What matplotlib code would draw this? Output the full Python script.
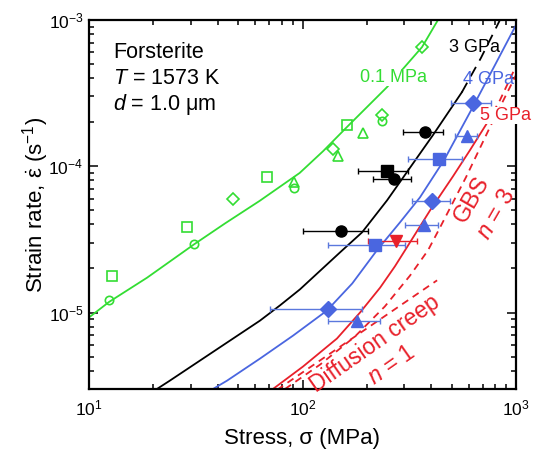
import matplotlib
matplotlib.use("Agg")
import matplotlib.pyplot as plt
import numpy as np

plt.rcParams["font.family"] = ["Liberation Sans", "DejaVu Sans"]
plt.rcParams["mathtext.fontset"] = "custom"
plt.rcParams["mathtext.rm"] = "Liberation Sans"
plt.rcParams["mathtext.it"] = "Liberation Sans:italic"
plt.rcParams["mathtext.default"] = "regular"
plt.rcParams["axes.unicode_minus"] = False

GREEN = "#33dd33"
BLUE = "#4a66e0"
BLUE_ERR = "#5b78dd"
RED = "#e8202a"

# model curves (stress MPa, strain rate 1/s)
green_sig = [10, 12.4, 18.7, 31, 43.4, 63, 97, 125, 163, 249, 363, 431]
green_eps = [9.25e-6, 1.18e-5, 1.73e-5, 2.92e-5, 4.07e-5, 5.8e-5, 9.0e-5, 1.27e-4, 1.88e-4, 3.48e-4, 6.53e-4, 1.0e-3]

black_sig = [20.8, 23.9, 63.2, 78.5, 97.3, 150, 190, 249, 330, 408, 558]
black_eps = [3.0e-6, 3.42e-6, 8.8e-6, 1.12e-5, 1.44e-5, 2.58e-5, 3.53e-5, 5.85e-5, 1.05e-4, 1.63e-4, 3.21e-4]
black_dash_sig = [558, 685, 841]
black_dash_eps = [3.21e-4, 5.5e-4, 1.0e-3]

blue_sig = [38.1, 44.3, 63.2, 90.3, 130, 171, 223, 286, 355, 460, 609, 797, 1000]
blue_eps = [3.0e-6, 3.42e-6, 4.84e-6, 6.95e-6, 1.03e-5, 1.58e-5, 2.66e-5, 4.13e-5, 6.13e-5, 1.10e-4, 2.34e-4, 4.92e-4, 9.24e-4]

red_sig = [72.7, 100.5, 145, 186, 231, 271, 302, 396, 507, 609, 731]
red_eps = [3.0e-6, 4.27e-6, 6.64e-6, 1.0e-5, 1.48e-5, 2.07e-5, 2.66e-5, 5.0e-5, 8.54e-5, 1.29e-4, 1.97e-4]
red_dash_sig = [731, 841, 1000]
red_dash_eps = [1.97e-4, 2.83e-4, 4.84e-4]

gbs_sig = [82.8, 121, 176, 243, 319, 387, 441, 507, 583, 664, 755, 869, 1000]
gbs_eps = [3.0e-6, 4.41e-6, 6.85e-6, 1.10e-5, 1.79e-5, 2.66e-5, 3.82e-5, 5.67e-5, 8.41e-5, 1.25e-4, 1.85e-4, 2.79e-4, 4.20e-4]

diff_sig = [76, 427]
diff_eps = [2.96e-6, 1.66e-5]

# 0.1 MPa data (open symbols)
g_circ_sig = [12.4, 31.0, 91.2, 236]
g_circ_eps = [1.21e-5, 2.92e-5, 7.08e-5, 2.03e-4]
g_sq_sig = [12.8, 28.8, 68.2, 161]
g_sq_eps = [1.79e-5, 3.82e-5, 8.4e-5, 1.91e-4]
g_dia_sig = [47.2, 139, 236, 363]
g_dia_eps = [5.94e-5, 1.31e-4, 2.23e-4, 6.53e-4]
g_tri_sig = [91.2, 146, 192]
g_tri_eps = [7.76e-5, 1.17e-4, 1.68e-4]

# 3 GPa
k_circ_sig = [151, 268, 375]
k_circ_eps = [3.59e-5, 8.15e-5, 1.71e-4]
k_circ_lo = [100, 214, 296]
k_circ_hi = [203, 322, 455]
k_sq_sig = [249]
k_sq_eps = [9.24e-5]
k_sq_lo = [182]
k_sq_hi = [312]

# 4 GPa
b_dia_sig = [132, 404, 629]
b_dia_eps = [1.05e-5, 5.75e-5, 2.70e-4]
b_dia_lo = [70.5, 326, 497]
b_dia_hi = [190, 491, 764]
b_sq_sig = [219, 436]
b_sq_eps = [2.88e-5, 1.12e-4]
b_sq_lo = [132, 312]
b_sq_hi = [302, 558]
b_tri_sig = [180, 371, 589]
b_tri_eps = [8.8e-6, 3.95e-5, 1.60e-4]
b_tri_lo = [132, 302, 517]
b_tri_hi = [231, 431, 656]

# 5 GPa
r_sig = [274]
r_eps = [3.06e-5]
r_lo = [203]
r_hi = [344]


def xerr(sig, lo, hi):
    sig = np.array(sig)
    return [sig - np.array(lo), np.array(hi) - sig]


fig = plt.figure(figsize=(5.33, 4.49), dpi=100)
ax = fig.add_axes([89 / 533, 1 - 389 / 449, 427 / 533, 369 / 449])

lw = 1.3
ax.plot(green_sig, green_eps, color=GREEN, lw=lw)
ax.plot(black_sig, black_eps, color="black", lw=lw)
ax.plot(black_dash_sig, black_dash_eps, color="black", lw=lw, ls=(0, (6, 4)))
ax.plot(blue_sig, blue_eps, color=BLUE, lw=lw)
ax.plot(red_sig, red_eps, color=RED, lw=lw)
ax.plot(red_dash_sig, red_dash_eps, color=RED, lw=lw, ls=(0, (4, 3)))
ax.plot(gbs_sig, gbs_eps, color=RED, lw=lw, ls=(0, (4, 3)))
ax.plot(diff_sig, diff_eps, color=RED, lw=lw, ls=(0, (4, 3)))

# open green symbols
gkw = dict(ls="none", mfc="none", mec=GREEN, mew=1.2)
ax.plot(g_circ_sig, g_circ_eps, marker="o", ms=6, **gkw)
ax.plot(g_sq_sig, g_sq_eps, marker="s", ms=6.5, **gkw)
ax.plot(g_dia_sig, g_dia_eps, marker="D", ms=6, **gkw)
ax.plot(g_tri_sig, g_tri_eps, marker="^", ms=7, **gkw)

ekw = dict(ls="none", elinewidth=1, capsize=2.5, capthick=1)
ax.errorbar(k_circ_sig, k_circ_eps, xerr=xerr(k_circ_sig, k_circ_lo, k_circ_hi),
            marker="o", ms=8, color="black", ecolor="black", **ekw)
ax.errorbar(k_sq_sig, k_sq_eps, xerr=xerr(k_sq_sig, k_sq_lo, k_sq_hi),
            marker="s", ms=8, color="black", ecolor="black", **ekw)

ax.errorbar(b_dia_sig, b_dia_eps, xerr=xerr(b_dia_sig, b_dia_lo, b_dia_hi),
            marker="D", ms=8, color=BLUE, ecolor=BLUE_ERR, **ekw)
ax.errorbar(b_sq_sig, b_sq_eps, xerr=xerr(b_sq_sig, b_sq_lo, b_sq_hi),
            marker="s", ms=8.5, color=BLUE, ecolor=BLUE_ERR, **ekw)
ax.errorbar(b_tri_sig, b_tri_eps, xerr=xerr(b_tri_sig, b_tri_lo, b_tri_hi),
            marker="^", ms=9, color=BLUE, ecolor=BLUE_ERR, **ekw)
ax.errorbar(r_sig, r_eps, xerr=xerr(r_sig, r_lo, r_hi),
            marker="v", ms=9, color=RED, ecolor=RED, **ekw)

ax.set_xscale("log")
ax.set_yscale("log")
ax.set_xlim(10, 1000)
ax.set_ylim(3e-6, 1e-3)

for s in ax.spines.values():
    s.set_linewidth(1.6)
ax.tick_params(which="both", direction="in", top=True, right=True, width=1.1)
ax.tick_params(which="major", length=6.5)
ax.tick_params(which="minor", length=3.5)
ax.tick_params(axis="x", which="major", pad=7, labelsize=12.5)
ax.tick_params(axis="y", which="major", pad=4, labelsize=12.5)

ax.set_xlabel("Stress, σ (MPa)", fontsize=16)
ax.set_ylabel(r"Strain rate, $\dot{\varepsilon}$ (s$^{-1}$)", fontsize=16)
ax.xaxis.set_label_coords(0.5, -0.105)
ax.yaxis.set_label_coords(-0.09, 0.5)

ax.text(0.056, 0.897, "Forsterite", transform=ax.transAxes, fontsize=15.5, va="baseline")
ax.text(0.056, 0.827, r"$\mathit{T}$ = 1573 K", transform=ax.transAxes, fontsize=15.5, va="baseline")
ax.text(0.056, 0.756, r"$\mathit{d}$ = 1.0 μm", transform=ax.transAxes, fontsize=15.5, va="baseline")

box = dict(facecolor="white", edgecolor="none", pad=0.3)
ax.text(186, 3.76e-4, "0.1 MPa", color=GREEN, fontsize=13, va="baseline", bbox=box, zorder=5)
ax.text(488, 6.04e-4, "3 GPa", color="black", fontsize=13, va="baseline")
ax.text(562, 3.65e-4, "4 GPa", color=BLUE, fontsize=13, va="baseline")
ax.text(678, 2.07e-4, "5 GPa", color=RED, fontsize=13, va="baseline", bbox=box, zorder=5)

ax.text(622, 5.94e-5, "GBS", color=RED, fontsize=17, rotation=60, ha="center", va="center")
ax.text(814, 4.69e-5, r"$\mathit{n}$ = 3", color=RED, fontsize=17, rotation=60, ha="center", va="center")
ax.text(219, 6.14e-6, "Diffusion creep", color=RED, fontsize=16.5, rotation=35, ha="center", va="center")
ax.text(262, 4.41e-6, r"$\mathit{n}$ = 1", color=RED, fontsize=16.5, rotation=35, ha="center", va="center")

fig.savefig("out.png", dpi=100)
